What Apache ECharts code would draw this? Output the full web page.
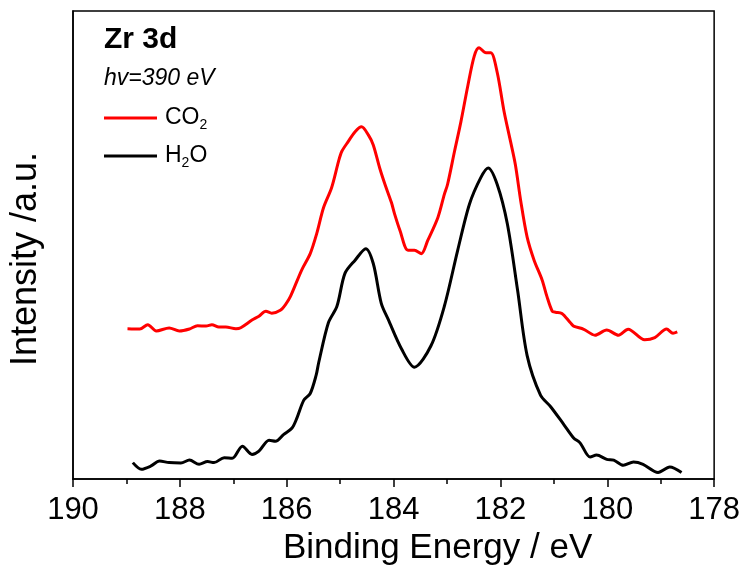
<!DOCTYPE html>
<html>
<head>
<meta charset="utf-8">
<script src="https://cdn.jsdelivr.net/npm/echarts@6/dist/echarts.min.js"></script>
<style>html,body{margin:0;padding:0;background:#fff;}#c{width:743px;height:571px;}</style>
</head>
<body>
<div id="c"></div>
<script>
var xTicks = [190, 188, 186, 184, 182, 180, 178];
var seriesNames = ['CO2', 'H2O'];
var energyCO2 = [188.98,188.75,188.60,188.44,188.20,188.01,187.82,187.67,187.51,187.40,187.27,187.14,186.95,186.86,186.65,186.52,186.39,186.28,186.12,186.02,185.93,185.72,185.56,185.44,185.31,185.16,185.03,184.97,184.85,184.72,184.60,184.47,184.38,184.26,184.16,184.04,183.98,183.88,183.73,183.61,183.48,183.36,183.17,183.05,182.99,182.86,182.74,182.61,182.49,182.40,182.27,182.18,182.06,181.93,181.81,181.72,181.62,181.50,181.37,181.22,181.13,181.03,180.97,180.85,180.69,180.63,180.44,180.23,180.01,179.79,179.61,179.30,179.11,178.89,178.77,178.69];
var intensityCO2 = [152.3,152,156.3,150,153,150,152,155.3,155,156.3,154,154,152.3,153.3,161,165,170,168,171,177,185,211.7,228.3,248.3,275,295,321.7,331.7,341.7,351.7,356.7,348.3,338.3,315,298.3,280,268.3,251.7,231.7,231.7,228.3,241.7,265,288.3,298.3,331.7,361.7,398.3,428.3,436.7,431.7,431.7,411.7,371.7,341.7,318.3,281.7,245,221.7,201.7,185,170,169,167.7,158.3,155,151.7,145.7,151,145.7,151.7,141,143.3,152,147.7,149];
var energyH2O = [188.88,188.72,188.54,188.38,188.20,187.98,187.82,187.64,187.48,187.36,187.17,187.02,186.83,186.65,186.52,186.33,186.21,186.06,185.90,185.81,185.68,185.56,185.45,185.40,185.22,185.06,184.91,184.72,184.52,184.38,184.23,184.10,183.85,183.61,183.30,183.05,182.80,182.58,182.37,182.23,182.06,181.87,181.68,181.50,181.25,181.06,180.81,180.63,180.51,180.32,180.20,180.01,179.88,179.70,179.51,179.33,179.05,178.83,178.61];
var intensityH2O = [16.7,10,13.3,18.3,16.7,16.3,19.3,15,17.7,16.7,21.7,21,33.3,25,28.3,39.3,38.3,45,51.7,61.7,80,86.7,105,118.3,158.3,175,208.3,221.7,233.3,218.3,178,161.7,131.7,113.3,135,175,231.7,278.3,305,315,298.3,258.3,191.7,125,85,73.3,55,41.7,36.7,22.3,24.3,20,19.3,14,17.3,15,6.7,12.3,6.7];

function pairs(xs, ys) { return xs.map(function (x, i) { return [x, ys[i]]; }); }

var chart = echarts.init(document.getElementById('c'), null, {renderer: 'canvas'});
var FONT = '"Liberation Sans", Arial, sans-serif';
chart.setOption({
  animation: false,
  backgroundColor: '#fff',
  textStyle: {fontFamily: FONT, color: '#000'},
  grid: {left: 73, right: 25, top: 11, bottom: 86, show: true, borderColor: '#000', borderWidth: 1.5, backgroundColor: 'transparent'},
  title: {
    text: 'Zr 3d', subtext: 'hv=390 eV', left: 99, top: 20, itemGap: 12,
    textStyle: {fontFamily: FONT, fontSize: 30, fontWeight: 'bold', color: '#000'},
    subtextStyle: {fontFamily: FONT, fontSize: 23, fontStyle: 'italic', color: '#000'}
  },
  legend: {
    orient: 'vertical', left: 104, top: 102, itemGap: 8, padding: 0,
    itemWidth: 53, itemHeight: 3, icon: 'rect',
    data: seriesNames,
    formatter: function (n) { return n === 'CO2' ? '{n|CO}{s|2}' : '{n|H}{s|2}{n|O}'; },
    textStyle: {
      fontFamily: FONT, color: '#000', padding: [0, 0, 0, 3],
      rich: {
        n: {fontFamily: FONT, fontSize: 23, color: '#000', lineHeight: 28},
        s: {fontFamily: FONT, fontSize: 14, color: '#000', lineHeight: 28, verticalAlign: 'bottom', padding: [16, 0, 0, 0]}
      }
    }
  },
  xAxis: {
    type: 'value', min: 178, max: 190, interval: 2, inverse: true,
    name: 'Binding Energy / eV', nameLocation: 'middle', nameGap: 50,
    nameTextStyle: {fontFamily: FONT, fontSize: 35, color: '#000', padding: [0, 0, 0, 88]},
    axisLine: {lineStyle: {color: '#000', width: 1.5}},
    axisTick: {show: true, inside: false, length: 8, lineStyle: {color: '#000', width: 1.5}},
    minorTick: {show: true, splitNumber: 2, length: 5, lineStyle: {color: '#000', width: 1.5}},
    axisLabel: {fontFamily: FONT, fontSize: 31, color: '#000', margin: 16,
      formatter: function (v) { return xTicks.indexOf(v) >= 0 ? String(v) : ''; }},
    splitLine: {show: false}
  },
  yAxis: {
    type: 'value', min: 0, max: 474,
    name: 'Intensity /a.u.', nameLocation: 'middle', nameGap: 29,
    nameTextStyle: {fontFamily: FONT, fontSize: 36, color: '#000', padding: [0, 28, 0, 0]},
    axisLine: {lineStyle: {color: '#000', width: 1.5}},
    axisTick: {show: false}, axisLabel: {show: false}, splitLine: {show: false}
  },
  series: [
    {name: 'CO2', type: 'line', data: pairs(energyCO2, intensityCO2), smooth: 0.3, showSymbol: false,
     lineStyle: {color: '#ff0000', width: 3}, itemStyle: {color: '#ff0000'}},
    {name: 'H2O', type: 'line', data: pairs(energyH2O, intensityH2O), smooth: 0.3, showSymbol: false,
     lineStyle: {color: '#000000', width: 3}, itemStyle: {color: '#000000'}}
  ]
});
</script>
</body>
</html>
